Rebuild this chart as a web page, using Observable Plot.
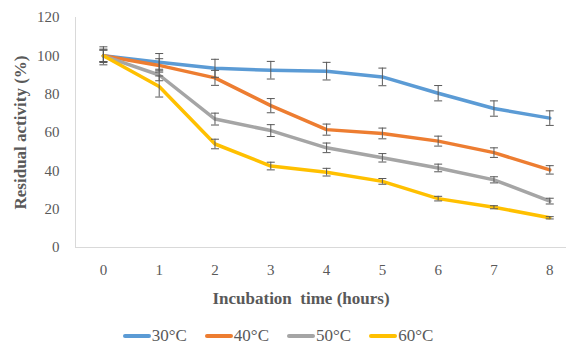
<!DOCTYPE html>
<html>
<head>
<meta charset="utf-8">
<script src="https://cdn.jsdelivr.net/npm/d3@7"></script>
<script src="https://cdn.jsdelivr.net/npm/@observablehq/plot@0.6"></script>
<style>
  html, body { margin: 0; padding: 0; background: #fff; }
  #chart { width: 566px; }
  #chart svg, #chart svg text { font-family: "Liberation Serif", "DejaVu Serif", serif !important; }
  #legend { display: flex; justify-content: center; align-items: center; height: 28px; padding-right: 10px;
            font-family: "Liberation Serif", "DejaVu Serif", serif; font-size: 17px; color: #595959; }
  #legend .item { display: flex; align-items: center; margin: 0 9px; }
  #legend .sw { display: inline-block; width: 28px; height: 4px; border-radius: 2px; margin-right: 1px; }
</style>
</head>
<body>
<div id="chart"></div>
<div id="legend"></div>
<script>
const hours = [0, 1, 2, 3, 4, 5, 6, 7, 8];
const series = ["30°C", "40°C", "50°C", "60°C"];
const colors = ["#5B9BD5", "#ED7D31", "#A5A5A5", "#FFC000"];
const act30 = [100, 96.7, 93.5, 92.5, 92, 89, 80.5, 72.5, 67.5];
const err30 = [4.7, 4.5, 4.7, 4.6, 4.6, 4.6, 4, 4, 3.8];
const act40 = [100, 95, 88.5, 74, 61.5, 59.5, 55.5, 49.5, 40.5];
const err40 = [3.5, 3.5, 3.9, 3.7, 2.9, 2.8, 2.6, 2.5, 2.2];
const act50 = [100, 90, 67, 61, 52, 46.8, 41.5, 35.3, 24.2];
const err50 = [3, 3, 3.1, 3.1, 2.5, 2.2, 2, 1.6, 1.5];
const act60 = [100, 84, 54, 42.5, 39.3, 34.5, 25.5, 21, 15.5];
const err60 = [3, 5.5, 2.5, 2, 2, 1.5, 1.2, 0.8, 0.6];
const yTicks = [0, 20, 40, 60, 80, 100, 120];
const xLabel = "Incubation  time (hours)";
const yLabel = "Residual activity (%)";

const acts = [act30, act40, act50, act60];
const errs = [err30, err40, err50, err60];
const data = series.flatMap((s, i) => hours.map((h, j) => ({
  series: s, hour: h, value: acts[i][j], lo: acts[i][j] - errs[i][j], hi: acts[i][j] + errs[i][j]
})));

const xDomain = [-0.5, 8.3];
const cap = { draw(ctx, size) { ctx.moveTo(-4, 0); ctx.lineTo(4, 0); } };
const font = "'Liberation Serif', 'DejaVu Serif', serif";

const chart = Plot.plot({
  width: 566,
  height: 322,
  marginLeft: 75,
  marginRight: 0,
  marginTop: 17,
  marginBottom: 75,
  style: { fontFamily: font, background: "#fff" },
  x: { domain: xDomain, ticks: hours },
  y: { domain: [0, 120], ticks: yTicks },
  color: { domain: series, range: colors },
  marks: [
    Plot.ruleY([0], { stroke: "#d9d9d9", strokeWidth: 1 }),
    Plot.ruleX([xDomain[0]], { stroke: "#d9d9d9", strokeWidth: 1 }),
    Plot.axisX({ ticks: hours, tickSize: 0, tickPadding: 17, fontSize: 15, fill: "#595959", label: null, tickFormat: d3.format("d") }),
    Plot.axisY({ ticks: yTicks, tickSize: 0, tickPadding: 16, fontSize: 15, fill: "#595959", label: null }),
    Plot.line(data, { x: "hour", y: "value", z: "series", stroke: "series", strokeWidth: 3.5, curve: "linear", strokeLinejoin: "round", strokeLinecap: "round" }),
    Plot.ruleX(data, { x: "hour", y1: "lo", y2: "hi", stroke: "#595959", strokeWidth: 1 }),
    Plot.dot(data, { x: "hour", y: "lo", symbol: cap, r: 4, stroke: "#595959", strokeWidth: 1, fill: "none" }),
    Plot.dot(data, { x: "hour", y: "hi", symbol: cap, r: 4, stroke: "#595959", strokeWidth: 1, fill: "none" }),
    Plot.text([xLabel], { frameAnchor: "bottom", dy: 56, dx: -20, text: d => d, fontSize: 17, fontWeight: "bold", fill: "#595959" }),
    Plot.text([yLabel], { frameAnchor: "left", textAnchor: "middle", dx: -55, rotate: -90, text: d => d, fontSize: 17, fontWeight: "bold", fill: "#595959" })
  ]
});
document.getElementById("chart").appendChild(chart);

const legend = document.getElementById("legend");
series.forEach((s, i) => {
  const item = document.createElement("div");
  item.className = "item";
  const sw = document.createElement("span");
  sw.className = "sw";
  sw.style.background = colors[i];
  const t = document.createElement("span");
  t.textContent = s;
  item.appendChild(sw);
  item.appendChild(t);
  legend.appendChild(item);
});
</script>
</body>
</html>
